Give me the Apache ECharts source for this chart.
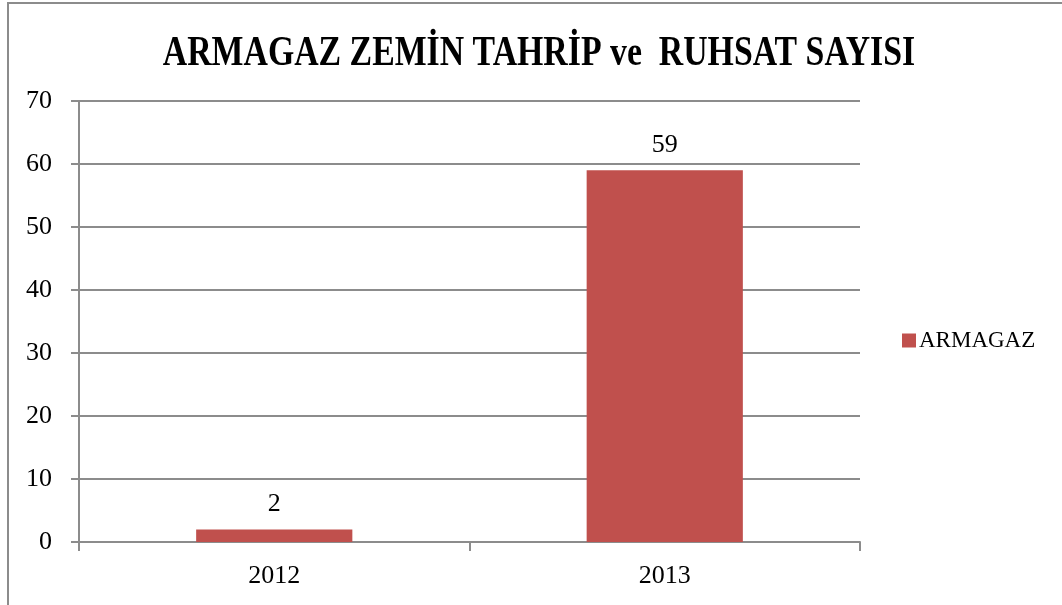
<!DOCTYPE html>
<html>
<head>
<meta charset="utf-8">
<script src="https://cdn.jsdelivr.net/npm/echarts@6/dist/echarts.min.js"></script>
<style>
  html, body { margin: 0; padding: 0; background: #fff; }
  #chart { width: 1062px; height: 605px; }
</style>
</head>
<body>
<div id="chart"></div>
<script>
const TITLE = "ARMAGAZ ZEMİN TAHRİP ve  RUHSAT SAYISI";
const SERIES_NAME = "ARMAGAZ";
const categories = ["2012", "2013"];
const values = [2, 59];

const FONT = "'Liberation Serif', 'DejaVu Serif', serif";
const BAR_COLOR = "#C0504D";
const LINE_COLOR = "#8c8c8c";

const chart = echarts.init(document.getElementById("chart"));

chart.setOption({
  animation: false,
  textStyle: { fontFamily: FONT },
  graphic: [
    {
      type: "rect",
      silent: true,
      shape: { x: 8, y: 3, width: 1200, height: 800 },
      style: { fill: "none", stroke: LINE_COLOR, lineWidth: 2 }
    },
    {
      type: "text",
      x: 539,
      y: 54,
      scaleX: 0.786,
      style: {
        text: TITLE,
        fontFamily: FONT,
        fontSize: 43,
        fontWeight: "bold",
        fill: "#000",
        align: "center",
        verticalAlign: "middle"
      }
    }
  ],
  legend: {
    data: [SERIES_NAME],
    left: 902,
    top: 329,
    padding: 0,
    itemWidth: 14,
    itemHeight: 14,
    itemGap: 6,
    icon: "rect",
    textStyle: { fontFamily: FONT, fontSize: 23, color: "#000", padding: [0, 0, 0, -2] }
  },
  grid: { left: 79, right: 202, top: 101, bottom: 63 },
  xAxis: {
    type: "category",
    data: categories,
    axisLine: { lineStyle: { color: LINE_COLOR, width: 2 } },
    axisTick: { show: true, length: 9, lineStyle: { color: LINE_COLOR, width: 2 } },
    axisLabel: { fontFamily: FONT, fontSize: 26, color: "#000", margin: 21 }
  },
  yAxis: {
    type: "value",
    min: 0,
    max: 70,
    interval: 10,
    axisLine: { show: true, lineStyle: { color: LINE_COLOR, width: 2 } },
    axisTick: { show: true, length: 8, lineStyle: { color: LINE_COLOR, width: 2 } },
    splitLine: { lineStyle: { color: LINE_COLOR, width: 2 } },
    axisLabel: { fontFamily: FONT, fontSize: 26, color: "#000", margin: 27 }
  },
  series: [
    {
      name: SERIES_NAME,
      type: "bar",
      data: values,
      barWidth: "40%",
      itemStyle: { color: BAR_COLOR },
      label: {
        show: true,
        position: "top",
        distance: 12,
        fontFamily: FONT,
        fontSize: 26,
        color: "#000"
      }
    }
  ]
});
</script>
</body>
</html>
